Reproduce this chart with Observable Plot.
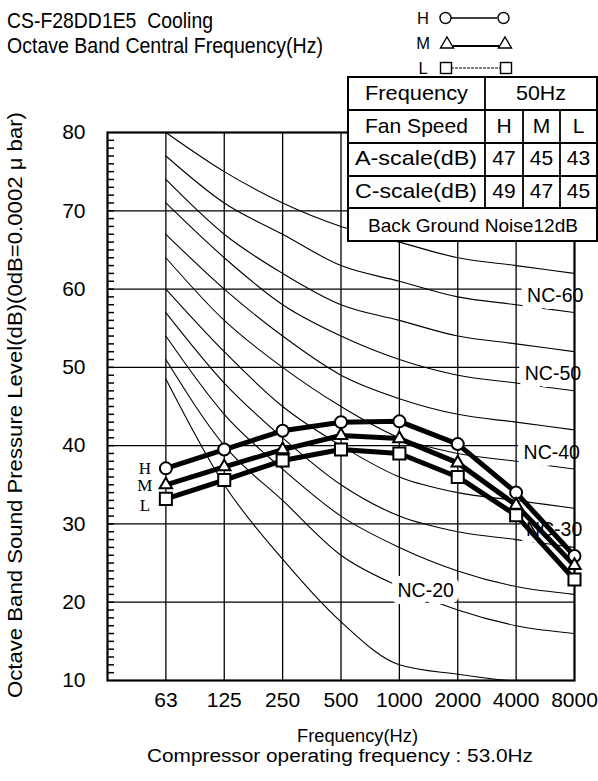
<!DOCTYPE html>
<html><head><meta charset="utf-8">
<script src="https://cdn.jsdelivr.net/npm/d3@7"></script>
<script src="https://cdn.jsdelivr.net/npm/@observablehq/plot@0.6"></script>
<style>
html,body{margin:0;padding:0;background:#fff;}
#wrap{position:relative;width:598px;height:781px;overflow:hidden;background:#fff;}
#wrap svg{position:absolute;left:0;top:0;}
</style></head><body><div id="wrap"></div>
<script>
// ---------- data ----------
const bands = ["63","125","250","500","1000","2000","4000","8000"];
const yTicks = [10,20,30,40,50,60,70,80];
const seriesNames = ["H","M","L"];
const levelH = [37.1, 39.5, 41.9, 43.0, 43.1, 40.2, 34.0, 25.9];
const levelM = [35.0, 37.3, 39.5, 41.3, 40.9, 37.8, 32.4, 24.7];
const levelL = [33.2, 35.6, 38.1, 39.5, 39.0, 36.0, 31.1, 22.9];

const ncNames = ["NC-65","NC-60","NC-55","NC-50","NC-45","NC-40","NC-35","NC-30","NC-25","NC-20","NC-15"];
const nc65 = [80, 75, 71, 68, 66, 64, 63, 62];
const nc60 = [77, 71, 67, 63, 61, 59, 58, 57];
const nc55 = [74, 67, 62, 58, 56, 54, 53, 52];
const nc50 = [71, 64, 58, 54, 51, 49, 48, 47];
const nc45 = [67, 60, 54, 49, 46, 44, 43, 42];
const nc40 = [64, 56, 50, 45, 41, 39, 38, 37];
const nc35 = [60, 52, 45, 40, 36, 34, 33, 32];
const nc30 = [57, 48, 41, 35, 31, 29, 28, 27];
const nc25 = [54, 44, 37, 31, 27, 24, 22, 21];
const nc20 = [51, 40, 33, 26, 22, 19, 17, 16];
const nc15 = [48.5, 35, 25.5, 17.5, 12, 10.8, 9.9, 9.5];

const ncLabelText  = ["NC-60","NC-50","NC-40","NC-30","NC-20"];
const ncLabelBand  = [6.67, 6.63, 6.61, 6.65, 4.45];
const ncLabelLevel = [59.2, 49.2, 39.1, 29.3, 21.5];
const hmlLabelLevel = [37.1, 34.9, 32.4];

const tableSpeeds = ["H","M","L"];
const aScale = [47, 45, 43];
const cScale = [49, 47, 45];
const powerFreq = "50Hz";
const backgroundNoise = "Back Ground Noise12dB";

// ---------- build tables ----------
const FONT = "'Liberation Sans', Arial, Helvetica, sans-serif";
const ncCurves = [nc65,nc60,nc55,nc50,nc45,nc40,nc35,nc30,nc25,nc20,nc15];
const ncData = ncCurves.flatMap((vals,k)=>vals.map((v,i)=>({name:ncNames[k], band:i, level:v})));
const seriesVals = [levelH, levelM, levelL];
const seriesData = seriesVals.flatMap((vals,k)=>vals.map((v,i)=>({name:seriesNames[k], band:i, level:v})));
const ncLabels = ncLabelText.map((t,k)=>({text:t, band:ncLabelBand[k], level:ncLabelLevel[k]}));
const hmlLabels = seriesNames.map((s,k)=>({text:s, band:0, level:hmlLabelLevel[k]}));
const minorTicks = d3.range(11, 80);

const chart = Plot.plot({
  width: 598, height: 781,
  marginLeft: 107, marginRight: 24, marginTop: 132, marginBottom: 101,
  style: {background: "transparent", fontFamily: FONT, fontSize: "21px", color: "black"},
  x: {domain: [-1, 7], ticks: d3.range(0, 8), tickFormat: i => bands[i], tickSize: 0, tickPadding: 12, label: null, line: false},
  y: {domain: [10, 80], ticks: yTicks, tickSize: 0, tickPadding: 22, label: null},
  marks: [
    Plot.ruleY(yTicks.slice(1, -1), {stroke: "black", strokeWidth: 1.3}),
    Plot.ruleX(d3.range(0, 7), {stroke: "black", strokeWidth: 1.3}),
    Plot.ruleY(minorTicks, {x1: -1, x2: -0.88, stroke: "black", strokeWidth: 1.5}),
    Plot.line(ncData, {x: "band", y: "level", z: "name", curve: "monotone-x", stroke: "black", strokeWidth: 1.1, clip: true}),
    Plot.text(ncLabels, {x: "band", y: "level", text: "text", fontSize: 19.5, fill: "white", stroke: "white", strokeWidth: 14}),
    Plot.text(ncLabels, {x: "band", y: "level", text: "text", fontSize: 19.5, fill: "black"}),
    Plot.frame({stroke: "black", strokeWidth: 2.2}),
    Plot.line(seriesData, {x: "band", y: "level", z: "name", stroke: "black", strokeWidth: 5}),
    Plot.dot(seriesData.filter(d => d.name === "H"), {x: "band", y: "level", symbol: "circle", r: 6, fill: "white", stroke: "black", strokeWidth: 2}),
    Plot.dot(seriesData.filter(d => d.name === "M"), {x: "band", y: "level", symbol: "triangle", r: 4.6, fill: "white", stroke: "black", strokeWidth: 2}),
    Plot.dot(seriesData.filter(d => d.name === "L"), {x: "band", y: "level", symbol: "square", r: 6.8, fill: "white", stroke: "black", strokeWidth: 2}),
    Plot.text(hmlLabels, {x: "band", y: "level", text: "text", dx: -21, fontSize: 17, fontFamily: "'Liberation Serif', 'DejaVu Serif', serif", fill: "black"})
  ]
});
document.getElementById("wrap").appendChild(chart);

// ---------- overlay: titles, legend, table ----------
const ov = d3.select("#wrap").append("svg").attr("width", 598).attr("height", 781)
  .style("font-family", FONT).attr("fill", "black");
function label(x, y, s, size, anchor, len) {
  const t = ov.append("text").attr("x", x).attr("y", y).attr("font-size", size)
    .attr("text-anchor", anchor || "start").style("white-space", "pre").text(s);
  if (len) t.attr("textLength", len).attr("lengthAdjust", "spacingAndGlyphs");
  return t;
}
label(7, 28, "CS-F28DD1E5  Cooling", 21.5, "start", 206);
label(7, 53, "Octave Band Central Frequency(Hz)", 21.5, "start", 316);

// legend
const lg = ov.append("g").attr("stroke", "black").attr("fill", "white").attr("stroke-width", 1.4);
const rowsY = [18, 43, 68];
seriesNames.forEach((s, k) => {
  label(423, rowsY[k] + 6, s, 16.5, "middle");
});
lg.append("line").attr("x1", 451).attr("x2", 497).attr("y1", rowsY[0]).attr("y2", rowsY[0]).attr("stroke-width", 1.6);
lg.append("circle").attr("cx", 445.5).attr("cy", rowsY[0]).attr("r", 5.5);
lg.append("circle").attr("cx", 503.5).attr("cy", rowsY[0]).attr("r", 5.5);
lg.append("line").attr("x1", 453).attr("x2", 499).attr("y1", rowsY[1] + 3).attr("y2", rowsY[1] + 3).attr("stroke-width", 2);
const tri = (cx, cy) => `M${cx},${cy-6}L${cx+6.5},${cy+5}L${cx-6.5},${cy+5}Z`;
lg.append("path").attr("d", tri(447, rowsY[1]));
lg.append("path").attr("d", tri(505, rowsY[1]));
lg.append("line").attr("x1", 451).attr("x2", 500).attr("y1", rowsY[2]).attr("y2", rowsY[2]).attr("stroke-dasharray", "3,1").attr("stroke-width", 1.2);
lg.append("rect").attr("x", 440.5).attr("y", rowsY[2] - 5.5).attr("width", 11).attr("height", 11);
lg.append("rect").attr("x", 500.5).attr("y", rowsY[2] - 5.5).attr("width", 11).attr("height", 11);

// table
const tb = ov.append("g");
tb.append("rect").attr("x", 348).attr("y", 77).attr("width", 249).attr("height", 164)
  .attr("fill", "white").attr("stroke", "black").attr("stroke-width", 2);
const tl = tb.append("g").attr("stroke", "black").attr("stroke-width", 1.8);
[110, 143, 176, 208].forEach(y => tl.append("line").attr("x1", 348).attr("x2", 597).attr("y1", y).attr("y2", y));
tl.append("line").attr("x1", 485).attr("x2", 485).attr("y1", 77).attr("y2", 208);
[523, 560].forEach(x => tl.append("line").attr("x1", x).attr("x2", x).attr("y1", 110).attr("y2", 208));
const colX = [504, 541.5, 578.5];
label(416.5, 100, "Frequency", 21, "middle", 103);
label(541, 100, powerFreq, 21, "middle", 50);
label(416.5, 133, "Fan Speed", 21, "middle", 103);
tableSpeeds.forEach((s, k) => label(colX[k], 133, s, 21, "middle"));
label(416, 165, "A-scale(dB)", 21, "middle", 122);
aScale.forEach((v, k) => label(colX[k], 165, String(v), 21, "middle"));
label(416, 198, "C-scale(dB)", 21, "middle", 122);
cScale.forEach((v, k) => label(colX[k], 198, String(v), 21, "middle"));
label(473, 232, backgroundNoise, 19, "middle", 210);

// axis titles and caption
label(357.5, 742, "Frequency(Hz)", 17.5, "middle", 121);
label(340, 762, "Compressor operating frequency : 53.0Hz", 18, "middle", 386);
ov.append("text").attr("transform", "translate(22,405) rotate(-90)").attr("font-size", 20)
  .attr("text-anchor", "middle").attr("textLength", 586).attr("lengthAdjust", "spacingAndGlyphs")
  .text("Octave Band Sound Pressure Level(dB)(0dB=0.0002 \u03bc bar)");
</script></body></html>
